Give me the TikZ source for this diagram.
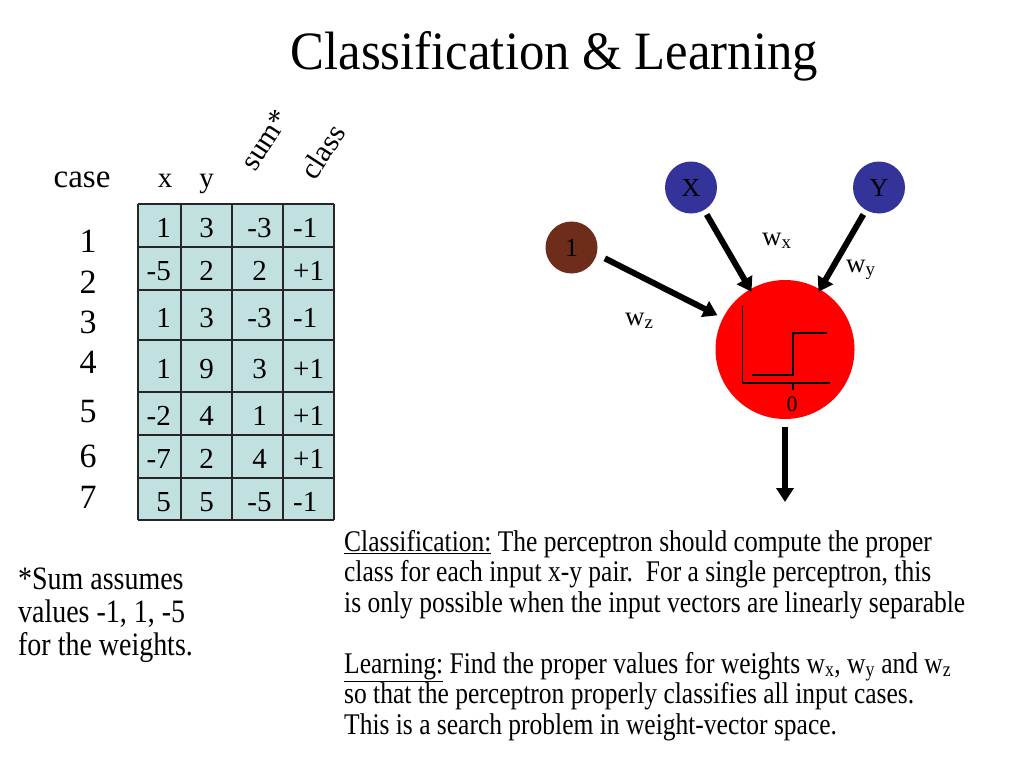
\documentclass[tikz,border=0pt]{standalone}
\usepackage{fontspec}
\setmainfont{Liberation Serif}
\usetikzlibrary{arrows.meta}
\definecolor{tblfill}{RGB}{193,224,224}
\definecolor{nblue}{RGB}{51,51,153}
\definecolor{nbrown}{RGB}{110,45,27}
\newcommand\fsz[1]{\fontsize{#1}{#1}\selectfont}
\begin{document}
\begin{tikzpicture}[x=1pt,y=-1pt,
  num/.style={inner sep=0pt,font=\fsz{29}},
  casenum/.style={inner sep=0pt,font=\fsz{34},anchor=base},
  body/.style={inner sep=0pt,anchor=base west,font=\fsz{30},xscale=0.85},
  lbody/.style={inner sep=0pt,anchor=base west,font=\fsz{32.7},xscale=0.855},
  wlab/.style={inner sep=0pt,anchor=base west,font=\fsz{27}},
  inode/.style={circle,inner sep=0pt,minimum size=52pt,font=\fsz{26}},
  arr/.style={line width=6pt,-{Triangle[length=14pt,width=17pt]}},
  grid/.style={line width=1.4pt,black!85},
  thin/.style={line width=1.5pt,black}]
\useasboundingbox (0,0) rectangle (1024,768);
\fill[white] (0,0) rectangle (1024,768);

% title
\node[inner sep=0pt,anchor=base west,font=\fsz{54},xscale=0.94] (title) at (290.5,70) {Classification \& Learning};

% table
\fill[tblfill] (138,204) rectangle (334,520);
\foreach \yy in {204,247,290,340,392,435,478,520}
  \draw[grid] (138,\yy) -- (334,\yy);
\foreach \xx in {138,181,232,283,334}
  \draw[grid] (\xx,204) -- (\xx,520);

\node[inner sep=0pt,anchor=base,font=\fsz{33}] (case) at (82,187) {case};
\node[num,anchor=base] (hx) at (165,187) {x};
\node[num,anchor=base] (hy) at (206.5,187) {y};
\node[inner sep=0pt,anchor=base west,rotate=57,font=\fsz{30}] (hsum) at (255,172.7) {sum*};
\node[inner sep=0pt,anchor=base west,rotate=57,font=\fsz{30}] (hclass) at (315,181.7) {class};

\foreach \r/\cy/\a/\b/\c/\d in {1/225.5/1/3/-3/-1, 2/268.5/-5/2/2/+1, 3/315/1/3/-3/-1, 4/366/1/9/3/+1, 5/413.5/-2/4/1/+1, 6/456.5/-7/2/4/+1, 7/499/5/5/-5/-1}{
  \node[num,anchor=base east] (a\r) at (171,\cy+12) {\a};
  \node[num,anchor=base] (b\r) at (206.5,\cy+12) {\b};
  \node[num,anchor=base] (c\r) at (259.5,\cy+12) {\c};
  \node[num,anchor=base west] (d\r) at (293,\cy+12) {\d};
}
\foreach \r/\by in {1/252,2/293,3/333,4/373,5/422,6/467,7/508}
  \node[casenum] (k\r) at (88,\by) {\r};

% left note
\node[lbody] (n1) at (18,589) {*Sum assumes};
\node[lbody] (n2) at (18,622) {values -1, 1, -5};
\node[lbody] (n3) at (18,655.5) {for the weights.};

% right text
\node[body] (t1) at (344,551) {\underline{Classification:} The perceptron should compute the proper};
\node[body] (t2) at (344,581.5) {class for each input x-y pair.\ \ For a single perceptron, this};
\node[body] (t3) at (344,612) {is only possible when the input vectors are linearly separable};
\node[body] (t4) at (344,673) {\underline{Learning:} Find the proper values for weights w\textsubscript{x}, w\textsubscript{y} and w\textsubscript{z}};
\node[body] (t5) at (344,703.5) {so that the perceptron properly classifies all input cases.};
\node[body] (t6) at (344,734) {This is a search problem in weight-vector space.};

% perceptron
\node[circle,fill=red,inner sep=0pt,minimum size=139pt] (N) at (785,349.5) {};
\node[inode,fill=nblue] (X) at (691,187.5) {X};
\node[inode,fill=nblue] (Y) at (879,187.5) {Y};
\node[inode,fill=nbrown] (one) at (571.5,247.5) {1};
\coordinate (out) at (785,502);

\draw[thin] (742.7,306) -- (742.7,383) -- (830,383);
\draw[thin] (793,383) -- (793,390);
\draw[thin] (752,375) -- (793,375) -- (793,333) -- (827,333);
\node[inner sep=0pt,anchor=base,font=\fsz{22}] (zero) at (792,411.5) {0};

\draw[arr,shorten <=5pt,shorten >=-3pt] (X) -- (N);
\draw[arr,shorten <=5pt,shorten >=-3pt] (Y) -- (N);
\draw[arr,shorten <=9pt,shorten >=6pt] (one.-15) -- (N);
\draw[arr,shorten <=8pt] (N) -- (out);

\node[wlab] (wx) at (762,245) {w\textsubscript{x}};
\node[wlab] (wy) at (846,272) {w\textsubscript{y}};
\node[wlab] (wz) at (625,325) {w\textsubscript{z}};
\end{tikzpicture}
\end{document}
